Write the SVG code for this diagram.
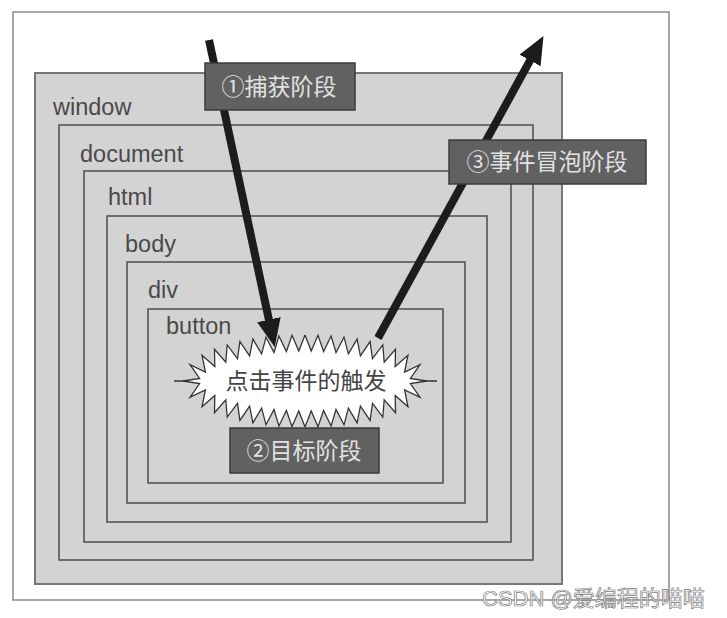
<svg xmlns="http://www.w3.org/2000/svg" xmlns:xlink="http://www.w3.org/1999/xlink" width="727" height="618" viewBox="0 0 727 618">
<style>
.box{fill:#d3d3d3;stroke:#555;stroke-width:1.6}
.lbl{font-family:"Liberation Sans",Arial,sans-serif;font-size:23.5px;fill:#4a4a4a}
.tag{fill:#616161;stroke:#3c3c3c;stroke-width:1.5}
.tagt{font-family:"Noto Sans CJK SC","Liberation Sans",sans-serif;font-size:23px;fill:#e2e2e2;text-anchor:middle}
.arr{stroke:#1c1c1c;stroke-width:8;fill:none}
.startxt{font-family:"Noto Sans CJK SC","Liberation Sans",sans-serif;font-size:23px;fill:#444;text-anchor:middle}
</style>
<defs>
<marker id="ah" markerUnits="userSpaceOnUse" viewBox="0 0 28 24" refX="1" refY="12" markerWidth="28" markerHeight="24" orient="auto">
<path d="M0,0 L28,12 L0,24 Z" fill="#1c1c1c"/>
</marker>
<path id="qf" d="M0,0 L122,0 L105.4,-2.5 L115,-16.4 L99.6,-8.9 L103,-25.8 L90.2,-14.5 L90.5,-31.8 L79.2,-18.9 L77.8,-36.1 L67.5,-22.4 L65.1,-39.4 L55.4,-25.1 L52.1,-41.9 L43.4,-27.1 L39,-43.8 L31,-28.5 L26.1,-45 L18.6,-29.5 L13,-45.8 L6.2,-29.9 L0,-46 Z" fill="#fff" stroke="#fff" stroke-width="1"/>
<path id="qs" d="M122,0 L105.4,-2.5 L115,-16.4 L99.6,-8.9 L103,-25.8 L90.2,-14.5 L90.5,-31.8 L79.2,-18.9 L77.8,-36.1 L67.5,-22.4 L65.1,-39.4 L55.4,-25.1 L52.1,-41.9 L43.4,-27.1 L39,-43.8 L31,-28.5 L26.1,-45 L18.6,-29.5 L13,-45.8 L6.2,-29.9 L0,-46" fill="none" stroke="#333" stroke-width="1.3" stroke-linejoin="miter"/>
</defs>
<rect width="727" height="618" fill="#fff"/>
<rect id="frame" x="13" y="12" width="656" height="588" fill="#fff" stroke="#8a8a8a" stroke-width="1.5"/>

<g id="window"><rect class="box" x="35" y="73" width="527" height="511" style="stroke:#777;stroke-width:2"/><text class="lbl" x="53" y="115">window</text></g>
<g id="document"><rect class="box" x="59" y="125" width="474" height="435"/><text class="lbl" x="80" y="162">document</text></g>
<g id="html"><rect class="box" x="84" y="171" width="427" height="371"/><text class="lbl" x="108" y="205">html</text></g>
<g id="body"><rect class="box" x="107" y="216" width="380" height="306"/><text class="lbl" x="125" y="252">body</text></g>
<g id="div"><rect class="box" x="127" y="262" width="338" height="241"/><text class="lbl" x="148" y="298">div</text></g>
<g id="button"><rect class="box" x="148" y="309" width="295" height="174"/><text class="lbl" x="166" y="334">button</text></g>

<g id="target-event">
<line x1="174" y1="381" x2="437" y2="381" stroke="#333" stroke-width="1.3"/>
<g transform="translate(305,381)">
<use xlink:href="#qf"/>
<use xlink:href="#qf" transform="scale(-1,1)"/>
<use xlink:href="#qf" transform="scale(1,-1)"/>
<use xlink:href="#qf" transform="scale(-1,-1)"/>
<use xlink:href="#qs"/>
<use xlink:href="#qs" transform="scale(-1,1)"/>
<use xlink:href="#qs" transform="scale(1,-1)"/>
<use xlink:href="#qs" transform="scale(-1,-1)"/>
</g>
<text class="startxt" x="306" y="389">点击事件的触发</text>
</g>

<g id="connectors">
<line class="arr" x1="209" y1="40" x2="269.1" y2="320.6" marker-end="url(#ah)"/>
<line class="arr" x1="378" y1="338" x2="530.5" y2="59.6" marker-end="url(#ah)"/>
</g>

<g id="capture-label"><rect class="tag" x="205" y="63" width="150" height="47"/><text class="tagt" x="279" y="95">①捕获阶段</text></g>
<g id="bubble-label"><rect class="tag" x="449" y="140" width="197" height="44"/><text class="tagt" x="547" y="170">③事件冒泡阶段</text></g>
<g id="target-label"><rect class="tag" x="230" y="428" width="149" height="45"/><text class="tagt" x="304" y="459">②目标阶段</text></g>

<text x="482" y="606" font-family="'Liberation Sans','Noto Sans CJK SC',sans-serif" font-size="22" fill="#fff" stroke="#7a7a7a" stroke-width="0.7">CSDN @爱编程的喵喵</text>
</svg>
